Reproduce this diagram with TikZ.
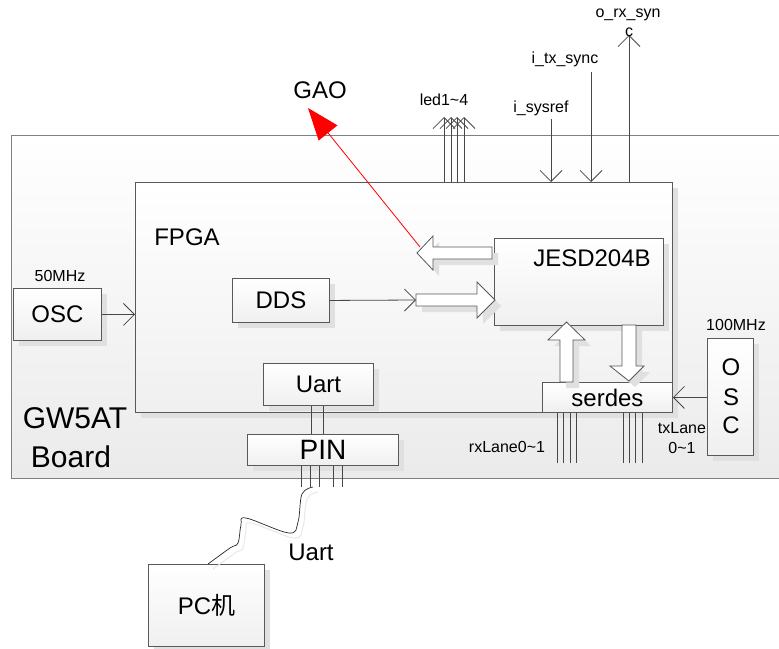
\documentclass[tikz,border=0pt]{standalone}
\usepackage{fontspec}
\setmainfont{Liberation Sans}
\newfontfamily\cjk{Noto Sans CJK SC}
\usetikzlibrary{arrows.meta,shadows}
\begin{document}
\begin{tikzpicture}[x=1pt,y=-1pt,
  f16/.style={font=\fontsize{16}{19}\selectfont},
  f24/.style={font=\fontsize{24}{28}\selectfont},
  f28/.style={font=\fontsize{28}{32}\selectfont},
  f30/.style={font=\fontsize{30}{34}\selectfont},
  lbl/.style={inner sep=0pt, anchor=base},
  shd/.style={general shadow={fill=black!12, shadow xshift=6pt, shadow yshift=-6pt}},
  box/.style={draw=black!65, line width=0.9pt, top color=white, bottom color=black!6,
              inner sep=0pt, anchor=north west, shd},
  conn/.style={draw=black!72, line width=0.8pt},
  barb/.style={conn, -{Straight Barb[length=11pt,width=22pt]}},
  blk/.style={draw=black!65, line width=0.8pt, fill=white, shd}
]
\useasboundingbox (0,0) rectangle (779,648);
\clip (0,0) rectangle (779,648);

% board
\node[draw=black!50, line width=1.3pt, top color=white, bottom color=black!8,
      inner sep=0pt, anchor=north west, minimum width=800pt, minimum height=343pt]
      (board) at (11,135) {};
\node[lbl,f30] (gw) at (75,428) {GW5AT};
\node[lbl,f30] (brd) at (71,467) {Board};

% FPGA
\node[box, minimum width=537pt, minimum height=230pt] (fpga) at (135,182) {};
\node[lbl,f24] (fpgat) at (187,245) {FPGA};

% left OSC
\node[box, f24, minimum width=88pt, minimum height=52pt] (osc1) at (13,288) {OSC};
\node[lbl,f16] (f50) at (60,281) {50MHz};
\draw[barb] (osc1.east) -- (osc1.east -| fpga.west);

% DDS
\node[box, f24, minimum width=97pt, minimum height=44pt] (dds) at (232,278) {DDS};
\coordinate (ra) at (416,300);
\draw[barb] (dds.east) -- (ra);

% JESD204B
\node[box, minimum width=169pt, minimum height=87pt] (jesd) at (494,238) {};
\node[lbl,f24] (jesdt) at (592,266) {JESD204B};

% serdes
\node[box, f24, minimum width=130pt, minimum height=30pt] (serdes) at (542,382) {serdes};

% right OSC
\node[box, minimum width=46pt, minimum height=117pt] (osc2) at (707,338) {};
\node[lbl,f24] (o1) at (731,375) {O};
\node[lbl,f24] (o2) at (731,405) {S};
\node[lbl,f24] (o3) at (731,433) {C};
\node[lbl,f16] (f100) at (736,330) {100MHz};
\draw[barb] (osc2.west |- serdes.east) -- (serdes.east);

% Uart / PIN
\node[box, f24, minimum width=110pt, minimum height=42pt] (uart) at (263,363) {Uart};
\node[box, f28, minimum width=151pt, minimum height=31pt] (pin) at (247,434) {PIN};
\foreach \x in {311,323} \draw[conn] (\x,0 |- uart.south) -- (\x,0 |- pin.north);
\foreach \x in {301,310,319,333,342} \draw[conn] (\x,0 |- pin.south) -- (\x,487);

% PC
\node[box, f24, minimum width=116pt, minimum height=82pt] (pc) at (148,564) {PC{\cjk 机}};
\node[lbl,f24] (uartl) at (311,560) {Uart};
\draw[black!9, line width=1pt] plot[smooth, tension=0.6] coordinates
  {(318,492) (307,499) (303,527) (294,538) (251,523) (246,530) (243,548) (235,553) (213,569)};
\draw[black!85, line width=0.7pt] plot[smooth, tension=0.6] coordinates
  {(313,487) (302,494) (298,522) (289,533) (246,518) (241,525) (238,543) (230,548) (208,564)};

% top signals
\foreach \x in {444,451,457,464} \draw[barb] (\x,0 |- fpga.north) -- (\x,117);
\node[lbl,f16] (led) at (444,105) {led1\textasciitilde4};
\draw[barb] (551,119) -- (551,0 |- fpga.north);
\node[lbl,f16] (sysref) at (541,112) {i\_sysref};
\draw[barb] (591,72) -- (591,0 |- fpga.north);
\node[lbl,f16] (txsync) at (565,63) {i\_tx\_sync};
\draw[barb] (629,0 |- fpga.north) -- (629,35);
\node[lbl,f16] (rxs1) at (628,17) {o\_rx\_syn};
\node[lbl,f16] (rxs2) at (629,36) {c};

% lanes
\foreach \x in {557,563,570,576} \draw[conn] (\x,0 |- serdes.south) -- (\x,463);
\foreach \x in {623,629,635,642} \draw[conn] (\x,0 |- serdes.south) -- (\x,463);
\node[lbl,f16] (rxl) at (507,452) {rxLane0\textasciitilde1};
\node[lbl,f16] (txl1) at (682,433) {txLane};
\node[lbl,f16] (txl2) at (682,453) {0\textasciitilde1};

% block arrows
\draw[blk] (416,294) -- (477,294) -- (477,282) -- (495,300) -- (477,318) -- (477,306) -- (416,306) -- cycle;
\draw[blk] (492,247) -- (433,247) -- (433,236) -- (417,253) -- (433,270) -- (433,259) -- (492,259) -- cycle;
\draw[blk] (560,382) -- (560,340) -- (548,340) -- (566.5,322) -- (585,340) -- (573,340) -- (573,382) -- cycle;
\draw[blk] (622,325) -- (622,366) -- (610,366) -- (629,381) -- (644,366) -- (636,366) -- (636,325) -- cycle;

% GAO
\node[lbl,f24] (gao) at (320,98) {GAO};
\coordinate (gaotip) at (308,108);
\coordinate (lat) at (420,247);
\draw[red, line width=0.8pt, -{Triangle[length=32pt,width=24pt]}] (lat) -- (gaotip);
\end{tikzpicture}
\end{document}
